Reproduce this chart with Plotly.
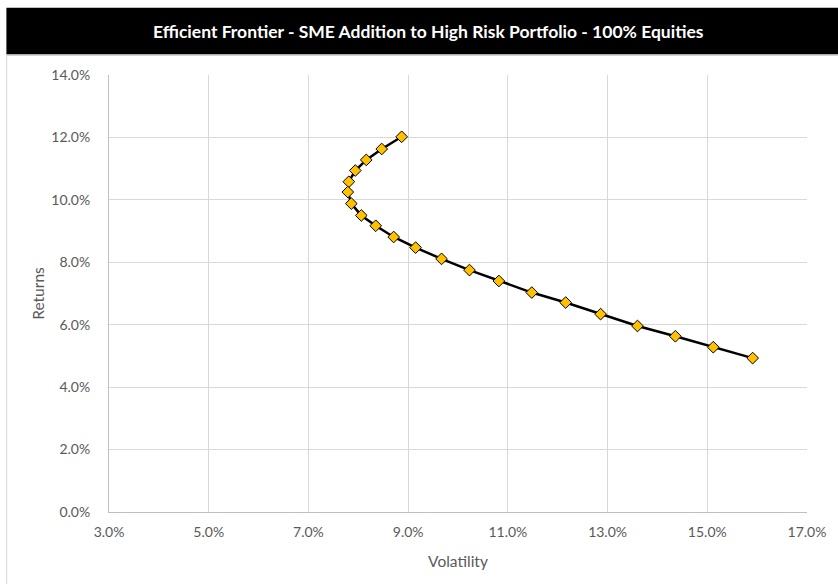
import plotly.graph_objects as go

# Efficient frontier points (volatility %, return %)
volatility = [8.87, 8.47, 8.16, 7.94, 7.81, 7.79, 7.86, 8.06, 8.35, 8.71, 9.15,
              9.67, 10.23, 10.82, 11.48, 12.16, 12.86, 13.60, 14.36, 15.12, 15.91]
returns = [12.02, 11.63, 11.28, 10.94, 10.58, 10.25, 9.88, 9.50, 9.17, 8.81, 8.47,
           8.11, 7.75, 7.40, 7.03, 6.71, 6.34, 5.96, 5.63, 5.28, 4.93]

x_ticks = [3, 5, 7, 9, 11, 13, 15, 17]
y_ticks = [0, 2, 4, 6, 8, 10, 12, 14]

title_text = "Efficient Frontier - SME Addition to High Risk Portfolio - 100% Equities"

W, H = 838, 584
L, R, T, B = 109.3, 29.3, 75.3, 72

FONT = "Lato, Calibri, sans-serif"
GREY = "#595959"

fig = go.Figure()
fig.add_trace(go.Scatter(
    x=[v / 100 for v in volatility],
    y=[r / 100 for r in returns],
    mode="lines+markers",
    line=dict(color="black", width=2.5),
    marker=dict(symbol="diamond", size=9, color="#FFC000",
                line=dict(color="black", width=1)),
    showlegend=False,
    hoverinfo="x+y",
))

axis_font = dict(family=FONT, size=14, color=GREY)

fig.update_xaxes(
    range=[0.03, 0.17],
    tickvals=[t / 100 for t in x_ticks],
    ticktext=[f"{t:.1f}%" for t in x_ticks],
    tickfont=axis_font,
    showgrid=True, gridcolor="#D9D9D9", gridwidth=1,
    showline=True, linecolor="#BFBFBF", linewidth=1,
    zeroline=False, ticks="", ticklabelstandoff=7,
    title=dict(text="Volatility", font=dict(family=FONT, size=15.5, color=GREY),
               standoff=17),
)
fig.update_yaxes(
    range=[0, 0.14],
    tickvals=[t / 100 for t in y_ticks],
    ticktext=[f"{t:.1f}%" for t in y_ticks],
    tickfont=axis_font,
    showgrid=True, gridcolor="#D9D9D9", gridwidth=1,
    showline=True, linecolor="#BFBFBF", linewidth=1,
    zeroline=False, ticks="", ticklabelstandoff=15,
    title=dict(text="Returns", font=dict(family=FONT, size=15.5, color=GREY),
               standoff=2),
)

# Title banner and chart frame, in pixel-based paper coordinates
pw = W - L - R
ph = H - T - B

def px_x(x):
    return (x - L) / pw

def px_y(y):
    return (H - B - y) / ph

shapes = [
    dict(type="rect", xref="paper", yref="paper",
         x0=px_x(6.5), x1=px_x(W + 5), y0=px_y(54.5), y1=px_y(8),
         fillcolor="black", line=dict(width=0), layer="above"),
    dict(type="line", xref="paper", yref="paper",
         x0=px_x(6.5), x1=px_x(W + 5), y0=px_y(55.2), y1=px_y(55.2),
         line=dict(color="#A6A6A6", width=1.2)),
    dict(type="line", xref="paper", yref="paper",
         x0=px_x(6.8), x1=px_x(6.8), y0=px_y(55), y1=px_y(H + 5),
         line=dict(color="#D9D9D9", width=1)),
]

fig.update_layout(
    width=W, height=H,
    margin=dict(l=L, r=R, t=T, b=B),
    paper_bgcolor="white", plot_bgcolor="white",
    shapes=shapes,
    annotations=[dict(
        text=f"<b>{title_text}</b>", xref="paper", yref="paper",
        x=px_x(429), y=px_y(31.5), xanchor="center", yanchor="middle",
        showarrow=False,
        font=dict(family=FONT, size=17.5, color="white"),
    )],
)

fig.write_html("out.html")
